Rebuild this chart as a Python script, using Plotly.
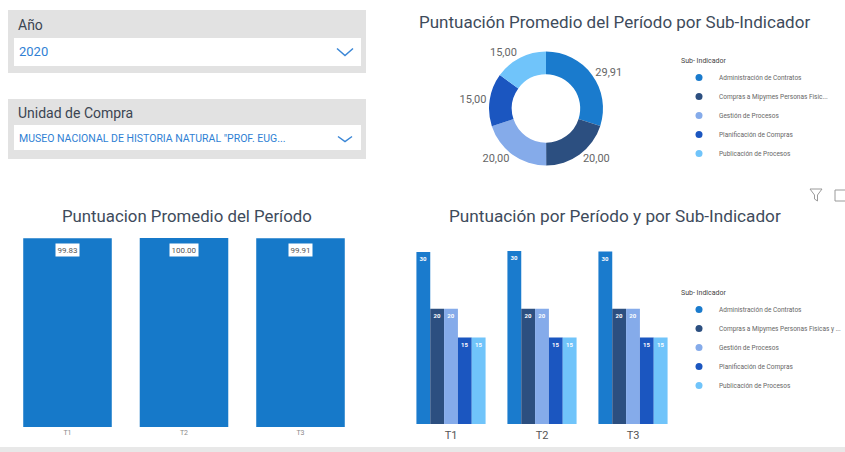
import plotly.graph_objects as go

# ---------------- data ----------------
sub_indicators = [
    "Administración de Contratos",
    "Compras a Mipymes Personas Fisicas y Juridicas",
    "Gestión de Procesos",
    "Planificación de Compras",
    "Publicación de Procesos",
]
legend_donut_labels = [
    "Administración de Contratos",
    "Compras a Mipymes Personas Fisic...",
    "Gestión de Procesos",
    "Planificación de Compras",
    "Publicación de Procesos",
]
legend_bar_labels = [
    "Administración de Contratos",
    "Compras a Mipymes Personas Fisicas y ...",
    "Gestión de Procesos",
    "Planificación de Compras",
    "Publicación de Procesos",
]
donut_values = [29.91, 20.00, 20.00, 15.00, 15.00]

periods = ["T1", "T2", "T3"]
period_totals = [99.83, 100.00, 99.91]

admin_by_period = [29.83, 30.00, 29.91]
compras_by_period = [20, 20, 20]
gestion_by_period = [20, 20, 20]
planif_by_period = [15, 15, 15]
public_by_period = [15, 15, 15]
series_by_period = [admin_by_period, compras_by_period, gestion_by_period,
                    planif_by_period, public_by_period]

slicer_year = "2020"
slicer_unit = 'MUSEO NACIONAL DE HISTORIA NATURAL "PROF. EUG...'

# ---------------- style ----------------
W, H = 845, 452
colors = ["#1a7bcd", "#2c4f80", "#85abea", "#1b56c0", "#70c4fa"]
bar_color = "#1679c9"
title_color = "#3e4b5b"
FONT = "Roboto, Open Sans, sans-serif"


def px(x):
    return x / W


def py(y):
    return (H - y) / H


fig = go.Figure()

# donut
fig.add_trace(go.Pie(
    labels=sub_indicators,
    values=donut_values,
    text=[f"{v:.2f}".replace(".", ",") for v in donut_values],
    textinfo="text",
    textposition="outside",
    textfont=dict(size=11, color="#666666", family=FONT),
    hole=0.6,
    sort=False,
    direction="clockwise",
    rotation=0,
    marker=dict(colors=colors, line=dict(color="white", width=0)),
    domain=dict(x=[px(489), px(603)], y=[py(165.5), py(51.5)]),
    showlegend=False,
    hoverinfo="label+value",
))

# left bar chart
fig.add_trace(go.Bar(
    x=periods, y=period_totals, marker=dict(color=bar_color, line=dict(width=0)),
    xaxis="x", yaxis="y", showlegend=False,
))

annos = []
for p, v in zip(periods, period_totals):
    annos.append(dict(
        x=p, y=v, xref="x", yref="y", text=f"{v:.2f}", showarrow=False,
        yanchor="top", yshift=-5, bgcolor="white", borderpad=1.5,
        font=dict(size=8, color="#555555", family=FONT),
    ))

# grouped bar chart
for name, vals, c in zip(sub_indicators, series_by_period, colors):
    fig.add_trace(go.Bar(
        x=periods, y=vals, name=name,
        marker=dict(color=c, line=dict(width=0)),
        texttemplate="<b>%{y:.0f}</b>", textposition="inside", insidetextanchor="end",
        textangle=0,
        textfont=dict(size=6, color="white", family=FONT),
        xaxis="x2", yaxis="y2", showlegend=False,
    ))

# legend entries (circle markers like the original)
for lab, c in zip(legend_donut_labels, colors):
    fig.add_trace(go.Scatter(
        x=[None], y=[None], mode="markers", name=lab,
        marker=dict(color=c, size=7, symbol="circle"),
        xaxis="x2", yaxis="y2", legend="legend",
    ))
for lab, c in zip(legend_bar_labels, colors):
    fig.add_trace(go.Scatter(
        x=[None], y=[None], mode="markers", name=lab,
        marker=dict(color=c, size=7, symbol="circle"),
        xaxis="x2", yaxis="y2", legend="legend2",
    ))

legend_common = dict(
    font=dict(size=6.5, color="#666666", family=FONT),
    bgcolor="rgba(0,0,0,0)", borderwidth=0,
    itemwidth=30, xanchor="left", yanchor="top",
    xref="container", yref="container",
    itemclick=False, itemdoubleclick=False,
)

shapes = []

# slicer boxes
for (y0, y1, iy0, iy1) in [(10, 73, 38, 66), (99, 159, 125, 150)]:
    shapes.append(dict(type="rect", xref="paper", yref="paper",
                       x0=px(8), x1=px(366), y0=py(y1), y1=py(y0),
                       fillcolor="#e2e2e2", line=dict(width=0), layer="below"))
    shapes.append(dict(type="rect", xref="paper", yref="paper",
                       x0=px(14), x1=px(361), y0=py(iy1), y1=py(iy0),
                       fillcolor="#ffffff", line=dict(width=0), layer="below"))
# chevrons
for (cx, cy, w, h) in [(345, 52, 8, 7), (345, 139, 7, 5)]:
    shapes.append(dict(
        type="path", xref="paper", yref="paper",
        path=f"M {px(cx - w)} {py(cy - h / 2)} L {px(cx)} {py(cy + h / 2)} L {px(cx + w)} {py(cy - h / 2)}",
        line=dict(color="#3a86d6", width=1.5)))

slicer_texts = [
    (16, 25, "Año", 14, "#3b4552"),
    (17, 52, slicer_year, 13, "#2f7fd4"),
    (16, 113, "Unidad de Compra", 14, "#3b4552"),
    (17, 138.5, slicer_unit, 10.5, "#2f7fd4"),
]
for (x, y, t, s, c) in slicer_texts:
    annos.append(dict(x=px(x), y=py(y), xref="paper", yref="paper", text=t,
                      xanchor="left", yanchor="middle", showarrow=False,
                      font=dict(size=s, color=c, family=FONT)))

# titles
for (cx, cy, t, s) in [(614, 22, "Puntuación Promedio del Período por Sub-Indicador", 17),
                       (187, 216, "Puntuacion Promedio del Período", 16.8),
                       (615, 216, "Puntuación por Período y por Sub-Indicador", 17.2)]:
    annos.append(dict(x=px(cx), y=py(cy), xref="paper", yref="paper", text=t,
                      showarrow=False, xanchor="center", yanchor="middle",
                      font=dict(size=s, color=title_color, family=FONT)))

# bottom strip
shapes.append(dict(type="rect", xref="paper", yref="paper", x0=0, x1=1,
                   y0=0, y1=py(447), fillcolor="#e8e8e8", line=dict(width=0)))
# funnel + focus icons
shapes.append(dict(type="path", xref="paper", yref="paper",
                   path=f"M {px(810)} {py(189)} L {px(822)} {py(189)} L {px(817.5)} {py(195)} L {px(817.5)} {py(201)} L {px(814.5)} {py(199)} L {px(814.5)} {py(195)} Z",
                   line=dict(color="#9a9a9a", width=1)))
shapes.append(dict(type="path", xref="paper", yref="paper",
                   path=f"M {px(845)} {py(190)} L {px(835)} {py(190)} L {px(835)} {py(201)} L {px(845)} {py(201)}",
                   line=dict(color="#9a9a9a", width=1)))

fig.update_layout(
    width=W, height=H, autosize=False,
    margin=dict(l=0, r=0, t=0, b=0, autoexpand=False),
    paper_bgcolor="white", plot_bgcolor="white",
    font=dict(family=FONT),
    barmode="group", bargap=0.24, bargroupgap=0,
    xaxis=dict(domain=[px(9.25), px(358.75)], showgrid=False, zeroline=False,
               showline=False, ticks="", tickfont=dict(size=7, color="#8a8a8a")),
    yaxis=dict(domain=[py(427), py(238)], range=[0, 100], visible=False),
    xaxis2=dict(domain=[px(405.5), px(678.5)], showgrid=False, zeroline=False,
                showline=False, ticks="", tickfont=dict(size=11, color="#555555")),
    yaxis2=dict(domain=[py(424), py(251)], range=[0, 30], visible=False),
    legend=dict(x=px(679), y=py(54),
                title=dict(text="Sub- Indicador", font=dict(size=7, color="#444444", family=FONT)),
                **legend_common),
    legend2=dict(x=px(679), y=py(286),
                 title=dict(text="Sub- Indicador", font=dict(size=7, color="#444444", family=FONT)),
                 **legend_common),
    shapes=shapes,
    annotations=annos,
    uniformtext=dict(minsize=6, mode="show"),
)

fig.write_html(
    "out.html",
    config={"displayModeBar": False},
    post_script=(
        "document.body.style.margin='0';"
        "document.documentElement.style.overflow='hidden';"
        "document.body.style.overflow='hidden';"
    ),
)
